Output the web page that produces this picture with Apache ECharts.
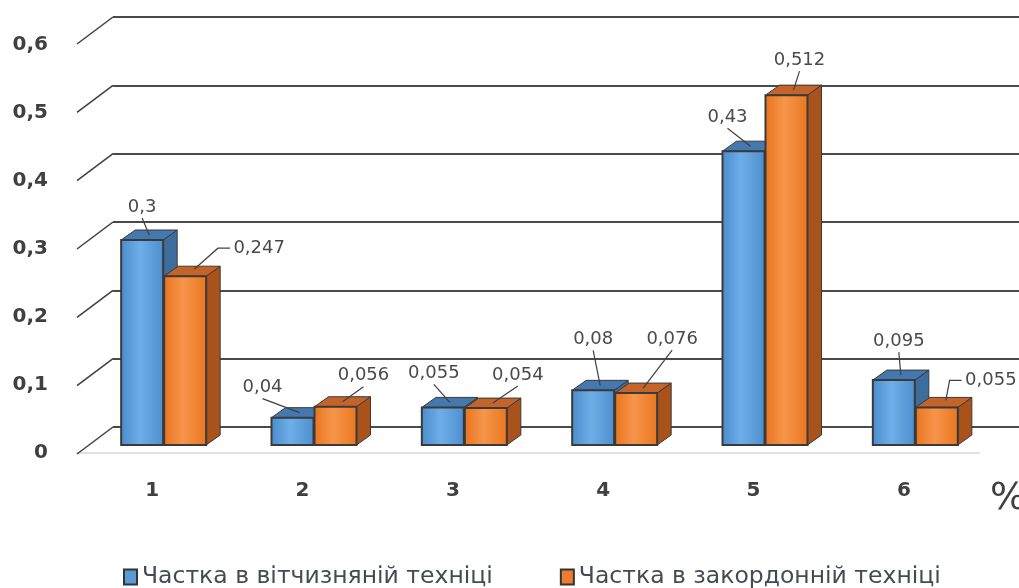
<!DOCTYPE html>
<html><head><meta charset="utf-8">
<script src="https://cdn.jsdelivr.net/npm/echarts@6/dist/echarts.min.js"></script>
<style>html,body{margin:0;padding:0;background:#fff}#c{width:1019px;height:588px}</style>
</head><body><div id="c"></div>
<script>
// ---- data ----
const categories = ['1', '2', '3', '4', '5', '6'];
const seriesNames = ['Частка в вітчизняній техніці', 'Частка в закордонній техніці'];
const domestic = [0.3, 0.04, 0.055, 0.08, 0.43, 0.095];
const foreign = [0.247, 0.056, 0.054, 0.076, 0.512, 0.055];
const yTicks = [0, 0.1, 0.2, 0.3, 0.4, 0.5, 0.6];

// ---- layout / style (not data) ----
const BAR_W = 42, DEPTH_X = 14, DEPTH_Y = -10;
const labelOffsets = [
  [[-7, -28], [-37, -25], [-16, -29], [-7, -46], [-23, -29], [-2, -34]],
  [[67, -23, 'side'], [21, -26], [25, -28], [29, -49], [6, -30], [47, -22, 'side']]
];
const palettes = [
  { front: ['#4a8bcb', '#6eaee8', '#4d8dcc'], side: '#3c6d9c', top: '#4478ae' },
  { front: ['#e8741f', '#f7954a', '#e9761f'], side: '#a9521c', top: '#c4642b' }
];
const fmt = v => (Math.round(v * 1000) / 1000).toString().replace('.', ',');

function makeRender(si) {
  const pal = palettes[si];
  return function (params, api) {
    const idx = api.value(0), v = api.value(1);
    const base = api.coord([idx, 0]);
    const top = api.coord([idx, v]);
    const c = base[0];
    const x0 = si === 0 ? c - BAR_W : c + 1;
    const x1 = x0 + BAR_W;
    const yb = base[1], yt = top[1];
    const dx = DEPTH_X, dy = DEPTH_Y;
    const ax = x0 + BAR_W / 2 + dx / 2, ay = yt + dy / 2;
    const off = labelOffsets[si][params.dataIndex];
    const tx = ax + off[0], ty = ay + off[1];
    const font = '18px "DejaVu Sans"';
    const textW = fmt(v).length * 10.5;
    let leader;
    if (off[2] === 'side') {
      const lx = tx - textW / 2 - 3;
      leader = [[ax + 2, ay - 2], [lx - 12, ty], [lx, ty]];
    } else {
      leader = [[tx, ty + 11], [ax, ay]];
    }
    return {
      type: 'group',
      children: [
        { type: 'polygon', shape: { points: [[x1, yt], [x1 + dx, yt + dy], [x1 + dx, yb + dy], [x1, yb]] },
          style: { fill: pal.side, stroke: '#3a3a3a', lineWidth: 1 } },
        { type: 'polygon', shape: { points: [[x0, yt], [x0 + dx, yt + dy], [x1 + dx, yt + dy], [x1, yt]] },
          style: { fill: pal.top, stroke: '#3a3a3a', lineWidth: 1 } },
        { type: 'rect', shape: { x: x0, y: yt, width: BAR_W, height: yb - yt },
          style: {
            fill: new echarts.graphic.LinearGradient(0, 0, 1, 0, [
              { offset: 0, color: pal.front[0] }, { offset: 0.45, color: pal.front[1] }, { offset: 1, color: pal.front[2] }]),
            stroke: '#3a3a3a', lineWidth: 2
          } },
        { type: 'polyline', shape: { points: leader }, style: { stroke: '#404040', lineWidth: 1.2, fill: null } },
        { type: 'text', style: { text: fmt(v), x: tx, y: ty, align: 'center', verticalAlign: 'middle', font: font, fill: '#4a4a4a' } }
      ]
    };
  };
}

const chart = echarts.init(document.getElementById('c'), null, { renderer: 'canvas' });
chart.setOption({
  animation: false,
  backgroundColor: '#ffffff',
  grid: [
    { left: 77, width: 902, top: 45, height: 408 },   // label plane
    { left: 113, right: 0, top: 17, height: 410 },    // back wall
    { left: 88, width: 902, top: 35, height: 410 }    // bars
  ],
  xAxis: [
    { gridIndex: 0, type: 'category', data: categories,
      axisLine: { show: true, lineStyle: { color: '#e2e2e2', width: 2 } }, axisTick: { show: false },
      axisLabel: { margin: 28, fontSize: 20, fontWeight: 'bold', fontFamily: 'DejaVu Sans', color: '#404040' } },
    { gridIndex: 1, type: 'value', min: 0, max: 1, show: false },
    { gridIndex: 2, type: 'category', data: categories, show: false }
  ],
  yAxis: [
    { gridIndex: 0, type: 'value', min: 0, max: 0.6, interval: 0.1,
      axisLine: { show: false }, axisTick: { show: false }, splitLine: { show: false },
      axisLabel: { margin: 29, fontSize: 20, fontWeight: 'bold', fontFamily: 'DejaVu Sans', color: '#404040', formatter: fmt } },
    { gridIndex: 1, type: 'value', min: 0, max: 0.6, interval: 0.1,
      axisLine: { show: false }, axisTick: { show: false }, axisLabel: { show: false },
      splitLine: { show: true, lineStyle: { color: '#4a4a4a', width: 2 } } },
    { gridIndex: 2, type: 'value', min: 0, max: 0.6, interval: 0.1, show: false, splitLine: { show: false } }
  ],
  legend: {
    left: 118, top: 560, itemGap: 67, itemWidth: 13, itemHeight: 15, icon: 'rect',
    textStyle: { fontSize: 23.5, fontFamily: 'DejaVu Sans', color: '#454a55' },
    data: seriesNames
  },
  graphic: [
    { type: 'text', left: 990, top: 480, style: { text: '%', font: '38px "DejaVu Sans"', fill: '#404040' } }
  ],
  series: [
    { type: 'custom', name: 'ticks', xAxisIndex: 1, yAxisIndex: 1, silent: true,
      data: yTicks.map(v => [0, v]),
      renderItem: function (params, api) {
        const p = api.coord([0, api.value(1)]);
        return { type: 'line', shape: { x1: p[0] - 36, y1: p[1] + 27, x2: p[0], y2: p[1] },
          style: { stroke: '#404040', lineWidth: 1.5 } };
      } },
    { type: 'custom', name: seriesNames[0], xAxisIndex: 2, yAxisIndex: 2,
      itemStyle: { color: '#5b9bd5', borderColor: '#333', borderWidth: 1 },
      data: domestic.map((v, i) => [i, v]), encode: { x: 0, y: 1 }, renderItem: makeRender(0) },
    { type: 'custom', name: seriesNames[1], xAxisIndex: 2, yAxisIndex: 2,
      itemStyle: { color: '#ed7d31', borderColor: '#333', borderWidth: 1 },
      data: foreign.map((v, i) => [i, v]), encode: { x: 0, y: 1 }, renderItem: makeRender(1) }
  ]
});
</script>
</body></html>
